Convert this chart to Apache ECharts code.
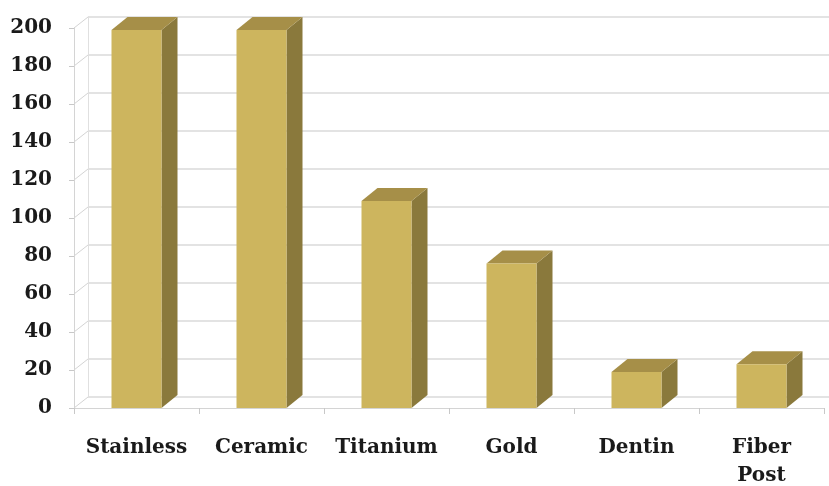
<!DOCTYPE html>
<html>
<head>
<meta charset="utf-8">
<script src="https://cdn.jsdelivr.net/npm/echarts@6/dist/echarts.min.js"></script>
<style>
  html, body { margin: 0; padding: 0; background: #fff; }
  #chart { width: 829px; height: 486px; }
</style>
</head>
<body>
<div id="chart"></div>
<script>
// data
const categories = ['Stainless', 'Ceramic', 'Titanium', 'Gold', 'Dentin', 'Fiber\nPost']
const values = [199, 199, 109, 76, 19, 23]
const yTicks = [0, 20, 40, 60, 80, 100, 120, 140, 160, 180, 200]

// depth offsets for the fake 3d
const WALL_DX = 14, WALL_DY = -11
const BAR_DX = 16, BAR_DY = -13

const labelFont = {
    fontFamily: 'DejaVu Serif',
    fontWeight: 'bold',
    fontSize: 20,
    color: '#1a1a1a'
}

const chart = echarts.init(document.getElementById('chart'))

function renderBar(params, api) {
    const i = api.value(0)
    const v = api.value(1)
    const base = api.coord([i, 0])
    const top = api.coord([i, v])
    const w = api.size([1, 0])[0] * 0.4
    const xl = base[0] - w / 2
    const xr = base[0] + w / 2
    const ty = top[1], by = base[1]
    return {
        type: 'group',
        children: [
            {
                type: 'polygon',
                shape: { points: [[xr, ty], [xr + BAR_DX, ty + BAR_DY], [xr + BAR_DX, by + BAR_DY], [xr, by]] },
                style: { fill: '#8a793c' }
            },
            {
                type: 'polygon',
                shape: { points: [[xl, ty], [xl + BAR_DX, ty + BAR_DY], [xr + BAR_DX, ty + BAR_DY], [xr, ty]] },
                style: { fill: '#a68f48' }
            },
            {
                type: 'rect',
                shape: { x: xl, y: ty, width: w, height: by - ty },
                style: { fill: '#cdb55e' }
            }
        ]
    }
}

function renderDiag(params, api) {
    const p = api.coord([0, api.value(1)])
    const x0 = p[0] - api.size([1, 0])[0] / 2
    return {
        type: 'line',
        shape: { x1: x0, y1: p[1], x2: x0 + WALL_DX, y2: p[1] + WALL_DY },
        style: { stroke: '#d4d4d4', lineWidth: 1 }
    }
}

const option = {
    backgroundColor: '#fff',
    animation: false,
    grid: [
        { left: 74, right: 5, top: 28, bottom: 78, outerBoundsMode: 'none', containLabel: false },
        { left: 74 + WALL_DX, right: 0, top: 28 + WALL_DY, bottom: 78 - WALL_DY, outerBoundsMode: 'none', containLabel: false }
    ],
    xAxis: [
        {
            type: 'category',
            gridIndex: 0,
            data: categories,
            axisLine: { show: true, lineStyle: { color: '#d4d4d4' } },
            axisTick: { show: true, length: 6, lineStyle: { color: '#c8c8c8' } },
            axisLabel: Object.assign({ margin: 26, lineHeight: 28, interval: 0 }, labelFont)
        },
        {
            type: 'category',
            gridIndex: 1,
            data: categories,
            show: false
        }
    ],
    yAxis: [
        {
            type: 'value',
            gridIndex: 0,
            min: 0, max: 200, interval: 20,
            axisLine: { show: true, lineStyle: { color: '#d4d4d4' } },
            axisTick: { show: true, length: 5, lineStyle: { color: '#c8c8c8' } },
            axisLabel: Object.assign({ margin: 22 }, labelFont),
            splitLine: { show: false }
        },
        {
            type: 'value',
            gridIndex: 1,
            min: 0, max: 200, interval: 20,
            axisLine: { show: true, lineStyle: { color: '#e0e0e0' } },
            axisTick: { show: false },
            axisLabel: { show: false },
            splitLine: { show: true, lineStyle: { color: '#dadada', width: 1.5 } }
        }
    ],
    series: [
        {
            type: 'custom',
            xAxisIndex: 0, yAxisIndex: 0,
            renderItem: renderDiag,
            data: yTicks.map(t => [0, t]),
            silent: true,
            z: 1
        },
        {
            type: 'custom',
            xAxisIndex: 0, yAxisIndex: 0,
            renderItem: renderBar,
            data: values.map((v, i) => [i, v]),
            z: 3
        }
    ]
}
chart.setOption(option)
</script>
</body>
</html>
